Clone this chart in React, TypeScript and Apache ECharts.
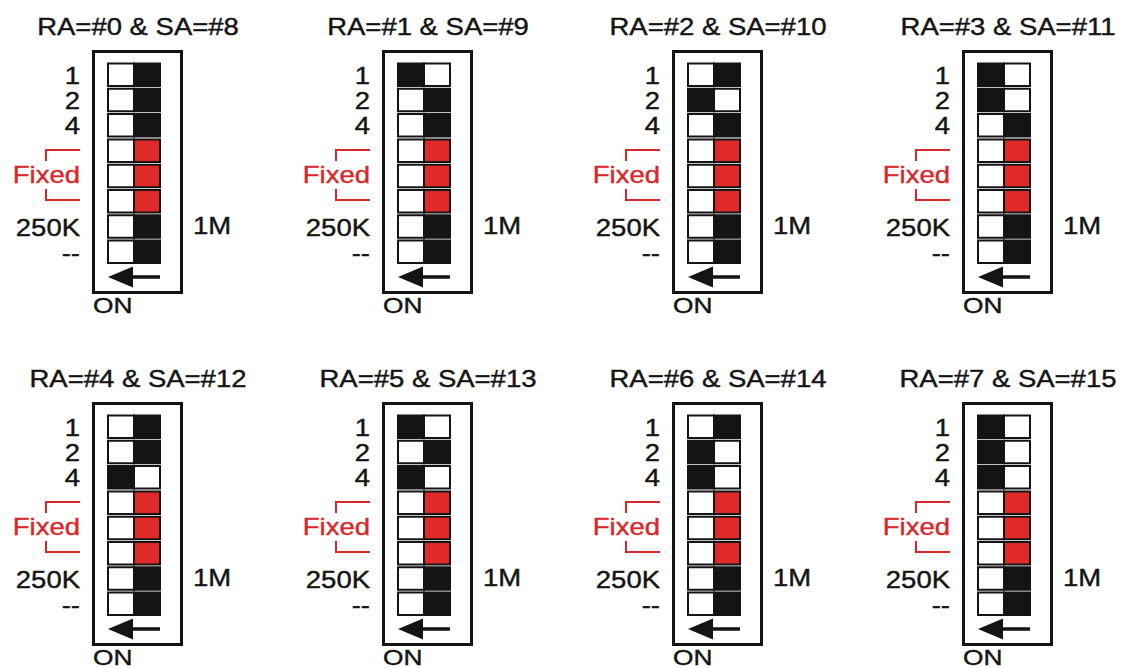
import React, { useEffect, useRef } from "react";
import * as echarts from "echarts";

// Panel titles (address settings)
const panelTitles = [
  "RA=#0 & SA=#8",
  "RA=#1 & SA=#9",
  "RA=#2 & SA=#10",
  "RA=#3 & SA=#11",
  "RA=#4 & SA=#12",
  "RA=#5 & SA=#13",
  "RA=#6 & SA=#14",
  "RA=#7 & SA=#15",
];
// Address switch states for rows "1","2","4": 1 = switched to ON side (left black)
const addressBits = [
  [0, 0, 0],
  [1, 0, 0],
  [0, 1, 0],
  [1, 1, 0],
  [0, 0, 1],
  [1, 0, 1],
  [0, 1, 1],
  [1, 1, 1],
];
// Row kinds: "addr" address switch, "fixed" red fixed switch, "off" black right
const rowKinds = ["addr", "addr", "addr", "fixed", "fixed", "fixed", "off", "off"];
const rowLabels = ["1", "2", "4", "", "", "", "250K", "--"];
const fixedLabel = "Fixed";
const rightLabel = "1M";
const onLabel = "ON";

const W = 1127;
const H = 668;
const PANEL_W = 290;
const PANEL_H = 352;
const BLACK = "#141414";
const RED = "#e02a2a";
const RED_TEXT = "#d8282c";
const FONT = "'Liberation Sans', Arial, sans-serif";
const FS = 23.5;
const SX = 1.17;

export default function App() {
  const ref = useRef<HTMLDivElement>(null);
  useEffect(() => {
    if (!ref.current) return;
    const chart = echarts.init(ref.current, null, { renderer: "svg" });

    const txt = (
      x: number,
      y: number,
      text: string,
      align: string,
      fill = BLACK,
      fontSize = FS
    ) => ({
      type: "text",
      x,
      y,
      scaleX: SX,
      style: {
        text,
        x: 0,
        y: 0,
        fill,
        stroke: fill,
        lineWidth: 0.4,
        fontSize,
        fontFamily: FONT,
        align,
        verticalAlign: "middle",
      },
    });

    const renderItem = (params: any, api: any) => {
      const i = api.value(0);
      const [ox, oy] = api.coord([i % 4, Math.floor(i / 4)]);
      const children: any[] = [];
      // title
      children.push(txt(ox + 138, oy + 27, panelTitles[i], "center"));
      // outer box
      children.push({
        type: "rect",
        shape: { x: ox + 93.5, y: oy + 51.5, width: 88, height: 241 },
        style: { fill: "#fff", stroke: BLACK, lineWidth: 3 },
      });
      const bits = addressBits[i];
      for (let r = 0; r < 8; r++) {
        const y0 = oy + 63.5 + r * 25.3;
        const kind = rowKinds[r];
        let leftFill = "#fff";
        let rightFill = BLACK;
        if (kind === "addr" && bits[r]) {
          leftFill = BLACK;
          rightFill = "#fff";
        } else if (kind === "fixed") {
          rightFill = RED;
        }
        children.push({
          type: "rect",
          shape: { x: ox + 108, y: y0, width: 26, height: 22.5 },
          style: { fill: leftFill, stroke: BLACK, lineWidth: 2 },
        });
        children.push({
          type: "rect",
          shape: { x: ox + 134, y: y0, width: 26, height: 22.5 },
          style: { fill: rightFill, stroke: BLACK, lineWidth: 2 },
        });
        if (rowLabels[r]) {
          children.push(txt(ox + 80, y0 + 12, rowLabels[r], "right"));
        }
      }
      // Fixed label and bracket
      children.push(txt(ox + 80, oy + 175, fixedLabel, "right", RED_TEXT));
      children.push({
        type: "polyline",
        shape: { points: [[ox + 80, oy + 150], [ox + 46, oy + 150], [ox + 46, oy + 161]] },
        style: { stroke: RED_TEXT, lineWidth: 2, fill: "none" },
      });
      children.push({
        type: "polyline",
        shape: { points: [[ox + 46, oy + 189], [ox + 46, oy + 200], [ox + 80, oy + 200]] },
        style: { stroke: RED_TEXT, lineWidth: 2, fill: "none" },
      });
      // 1M label
      children.push(txt(ox + 193, oy + 226, rightLabel, "left"));
      // arrow
      children.push({
        type: "line",
        shape: { x1: ox + 128, y1: oy + 277, x2: ox + 160, y2: oy + 277 },
        style: { stroke: BLACK, lineWidth: 3.5 },
      });
      children.push({
        type: "polygon",
        shape: { points: [[ox + 108, oy + 277], [ox + 133, oy + 266.5], [ox + 133, oy + 287.5]] },
        style: { fill: BLACK },
      });
      // ON
      children.push(txt(ox + 93, oy + 305, onLabel, "left", BLACK, 22.5));
      return { type: "group", children };
    };

    chart.setOption({
      animation: false,
      backgroundColor: "#fff",
      grid: { left: 0, top: 0, right: 0, bottom: 0 },
      xAxis: { type: "value", min: 0, max: W / PANEL_W, show: false },
      yAxis: { type: "value", min: 0, max: H / PANEL_H, inverse: true, show: false },
      series: [
        {
          type: "custom",
          clip: false,
          renderItem,
          data: panelTitles.map((_, i) => [i]),
        },
      ],
    });
    return () => chart.dispose();
  }, []);
  return (
    <div
      ref={ref}
      style={{ position: "absolute", left: 0, top: 0, width: W, height: H }}
    />
  );
}
